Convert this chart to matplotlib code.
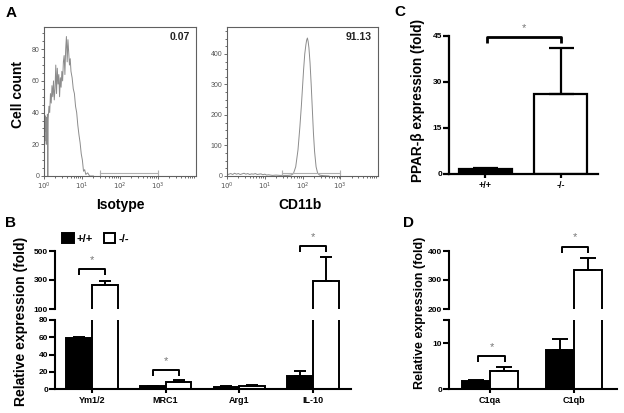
import matplotlib
matplotlib.use("Agg")
import matplotlib.pyplot as plt
from matplotlib.patches import Patch
import numpy as np

plt.rcParams['font.family'] = ['Liberation Sans', 'DejaVu Sans']

# panel A: flow histograms, x = log10 fluorescence, y = cell count
iso_log = [0.00, 0.01, 0.02, 0.03, 0.04, 0.05, 0.06, 0.07, 0.08, 0.09, 0.10, 0.11,
           0.13, 0.15, 0.17, 0.19, 0.21, 0.23, 0.25, 0.27, 0.29, 0.31, 0.33, 0.35,
           0.37, 0.39, 0.41, 0.43, 0.45, 0.47, 0.49, 0.51, 0.53, 0.55, 0.57, 0.59,
           0.61, 0.63, 0.65, 0.67, 0.69, 0.71, 0.74, 0.77, 0.80, 0.83, 0.86, 0.89,
           0.92, 0.95, 0.98, 1.01, 1.04, 1.07, 1.10, 1.15, 1.20, 1.30]
iso_count = [0, 34, 22, 38, 28, 36, 20, 37, 30, 39, 0, 36,
             44, 40, 52, 46, 57, 50, 60, 48, 55, 70, 52, 68,
             58, 64, 50, 62, 56, 66, 60, 72, 76, 64, 80, 88,
             72, 86, 78, 70, 74, 66, 62, 55, 52, 44, 40, 32,
             26, 21, 14, 10, 3, 4, 1, 2, 0, 0]
cd11b_log = [0.00, 0.05, 0.10, 0.15, 0.20, 0.25, 0.30, 0.35, 0.40, 0.45, 0.50, 0.55,
             0.60, 0.65, 0.70, 0.75, 0.80, 0.85, 0.90, 0.95, 1.00, 1.05, 1.10, 1.20,
             1.30, 1.40, 1.50, 1.60, 1.70, 1.76, 1.82, 1.88, 1.93, 1.97, 2.00, 2.03,
             2.06, 2.09, 2.11, 2.13, 2.15, 2.17, 2.20, 2.23, 2.26, 2.29, 2.32, 2.36,
             2.40, 2.45, 2.55, 2.70]
cd11b_count = [4, 6, 8, 5, 9, 6, 8, 5, 7, 9, 6, 8,
               5, 7, 6, 8, 5, 6, 7, 4, 6, 3, 4, 2,
               3, 2, 2, 2, 3, 8, 30, 85, 160, 230, 290, 350,
               400, 430, 445, 452, 440, 420, 370, 300, 220, 140, 80, 30,
               10, 3, 1, 0]
gate_log = [1.47, 3.0]
gate_level = [1.9, 10]
pct_labels = ['0.07', '91.13']
hist_names = ['Isotype', 'CD11b']

# panel B: M2 markers
b_genes = ['Ym1/2', 'MRC1', 'Arg1', 'IL-10']
b_wt = [59, 3, 2.5, 15.6]
b_wt_err = [1, 0.6, 0.5, 5.5]
b_ko = [268, 8, 3.5, 293]
b_ko_err = [22, 2.2, 0.8, 166]

# panel C: PPAR-beta
c_groups = ['+/+', '-/-']
c_mean = [1.5, 26]
c_err = [0.3, 15]

# panel D: C1q
d_genes = ['C1qa', 'C1qb']
d_wt = [1.7, 8.4]
d_wt_err = [0.3, 2.4]
d_ko = [4.0, 335]
d_ko_err = [0.7, 40]

W, H = 624, 413
fig = plt.figure(figsize=(W / 100, H / 100), dpi=100)


def box(x0, y0, x1, y1):
    return [x0 / W, 1 - y1 / H, (x1 - x0) / W, (y1 - y0) / H]


def ftext(x, y, s, **kw):
    fig.text(x / W, 1 - y / H, s, ha='center', va='center', **kw)


# ---- A ----
hist_axes = [fig.add_axes(box(44, 27, 196, 176)), fig.add_axes(box(227, 27, 378, 176))]
hist_data = [(iso_log, iso_count, 94, 20), (cd11b_log, cd11b_count, 488, 100)]
for i, ax in enumerate(hist_axes):
    lx, cnt, ytop, ystep = hist_data[i]
    ax.plot(10 ** np.array(lx), cnt, color='#8c8c8c', lw=0.7)
    ax.plot(10 ** np.array(gate_log), [gate_level[i]] * 2, color='#b0b0b0', lw=0.8,
            marker='|', ms=4, mew=0.8)
    ax.set_xscale('log')
    ax.set_xlim(1, 1e4)
    ax.set_ylim(0, ytop)
    ax.set_xticks([1, 10, 100, 1000])
    ax.set_xticklabels([r'$10^0$', r'$10^1$', r'$10^2$', r'$10^3$'])
    ax.set_yticks(np.arange(0, ytop, ystep))
    ax.set_yticks(np.arange(0, ytop, ystep / 4), minor=True)
    ax.tick_params(which='both', direction='out', labelsize=5, colors='#555555',
                   length=2, width=0.6, pad=1.5)
    ax.tick_params(which='minor', length=1.2)
    for s in ax.spines.values():
        s.set_color('#606060')
        s.set_linewidth(0.8)
    ax.text(0.96, 0.93, pct_labels[i], transform=ax.transAxes, ha='right', va='center',
            fontsize=7.5, fontweight='bold', color='#222222')
ftext(120, 205, hist_names[0], fontsize=10, fontweight='bold')
ftext(300, 205, hist_names[1], fontsize=10, fontweight='bold')
ftext(18, 95, 'Cell count', fontsize=10, fontweight='bold', rotation=90)


def style(ax, bottom=True, lw=1.5, size=6):
    ax.spines['top'].set_visible(False)
    ax.spines['right'].set_visible(False)
    ax.spines['left'].set_linewidth(lw)
    ax.spines['bottom'].set_linewidth(lw)
    ax.tick_params(axis='y', direction='out', length=4, width=lw, labelsize=size, pad=1)
    if bottom:
        ax.tick_params(axis='x', direction='out', length=3, width=lw, labelsize=6.5, pad=2)
    else:
        ax.spines['bottom'].set_visible(False)
        ax.tick_params(axis='x', bottom=False, labelbottom=False)
    for lab in ax.get_yticklabels() + ax.get_xticklabels():
        lab.set_fontweight('bold')


def bars(ax, wt, wt_err, ko, ko_err, width, cap, lw=1.4):
    pos = np.arange(len(wt))
    ax.bar(pos - width / 2, wt, width, color='black', edgecolor='black', lw=lw, zorder=2)
    ax.bar(pos + width / 2, ko, width, color='white', edgecolor='black', lw=lw, zorder=2)
    ax.errorbar(pos - width / 2, wt, yerr=[np.zeros(len(wt)), wt_err], fmt='none',
                ecolor='black', elinewidth=lw, capsize=cap, capthick=lw, zorder=3)
    ax.errorbar(pos + width / 2, ko, yerr=[np.zeros(len(ko)), ko_err], fmt='none',
                ecolor='black', elinewidth=lw, capsize=cap, capthick=lw, zorder=3)


def bracket(ax, x0, x1, y, leg, star_y, lw=1.4, fs=8):
    ax.plot([x0, x0, x1, x1], [y - leg, y, y, y - leg], color='black', lw=lw,
            clip_on=False, solid_capstyle='butt')
    ax.text((x0 + x1) / 2, star_y, '*', ha='center', va='center', fontsize=fs,
            color='#777777')


# ---- B ----
bw = 0.35
b_up = fig.add_axes(box(55, 251, 351, 309))
b_lo = fig.add_axes(box(55, 320, 351, 389))
for ax in (b_up, b_lo):
    bars(ax, b_wt, b_wt_err, b_ko, b_ko_err, bw, 4.5)
    ax.set_xlim(-0.5, 3.514)
b_up.set_ylim(100, 500)
b_up.set_yticks([100, 300, 500])
b_lo.set_ylim(0, 80)
b_lo.set_yticks([0, 20, 40, 60, 80])
b_lo.set_xticks(np.arange(len(b_genes)))
b_lo.set_xticklabels(b_genes)
style(b_up, bottom=False)
style(b_lo)
bracket(b_up, -0.175, 0.175, 376, 40, 440)
bracket(b_lo, 1 - 0.175, 1 + 0.175, 22, 7, 32)
bracket(b_up, 3 - 0.175, 3 + 0.175, 534, 40, 598)
b_up.legend(handles=[Patch(facecolor='black', edgecolor='black', lw=1.4),
                     Patch(facecolor='white', edgecolor='black', lw=1.4)],
            labels=c_groups, loc='upper left', bbox_to_anchor=(58 / W, 1 - 229 / H),
            bbox_transform=fig.transFigure, ncol=2, frameon=False, borderaxespad=0,
            handlelength=1.0, handleheight=1.0, handletextpad=0.3, columnspacing=1.0,
            prop={'weight': 'bold', 'size': 8})
ftext(21, 321, 'Relative expression (fold)', fontsize=10, fontweight='bold', rotation=90)

# ---- C ----
c_ax = fig.add_axes(box(449, 36, 598, 174))
pos = np.arange(len(c_groups))
c_ax.bar(pos, c_mean, 0.7, color=['black', 'white'], edgecolor='black', lw=1.6, zorder=2)
c_ax.errorbar(pos, c_mean, yerr=[np.zeros(2), c_err], fmt='none', ecolor='black',
              elinewidth=1.6, capsize=9, capthick=1.6, zorder=3)
c_ax.set_xlim(-0.48, 1.49)
c_ax.set_ylim(0, 45)
c_ax.set_yticks([0, 15, 30, 45])
c_ax.set_xticks(pos)
c_ax.set_xticklabels(c_groups)
style(c_ax, lw=1.6)
bracket(c_ax, 0.02, 1.0, 44.7, 2.0, 47.5, lw=2.0)
ftext(418.5, 100, 'PPAR-β expression (fold)', fontsize=9.8, fontweight='bold', rotation=90)

# ---- D ----
dw = 0.333
d_up = fig.add_axes(box(449, 251, 617, 309))
d_lo = fig.add_axes(box(449, 320, 617, 389))
for ax in (d_up, d_lo):
    bars(ax, d_wt, d_wt_err, d_ko, d_ko_err, dw, 5.5)
    ax.set_xlim(-0.488, 1.512)
d_up.set_ylim(200, 400)
d_up.set_yticks([200, 300, 400])
d_lo.set_ylim(0, 15)
d_lo.set_yticks([0, 10, 15])
d_lo.set_yticklabels(['0', '10', ''])
d_lo.set_xticks(np.arange(len(d_genes)))
d_lo.set_xticklabels(d_genes)
style(d_up, bottom=False)
style(d_lo)
bracket(d_lo, -0.14, 0.18, 7.2, 1.3, 9.2)
bracket(d_up, 1 - 0.14, 1 + 0.17, 414, 21, 447)
ftext(420, 313, 'Relative expression (fold)', fontsize=9, fontweight='bold', rotation=90)

# panel letters
for s, x, y in [('A', 11, 13), ('B', 10, 223), ('C', 400, 12), ('D', 408, 223)]:
    ftext(x, y, s, fontsize=11, fontweight='bold')

fig.savefig('out.png', dpi=100)
